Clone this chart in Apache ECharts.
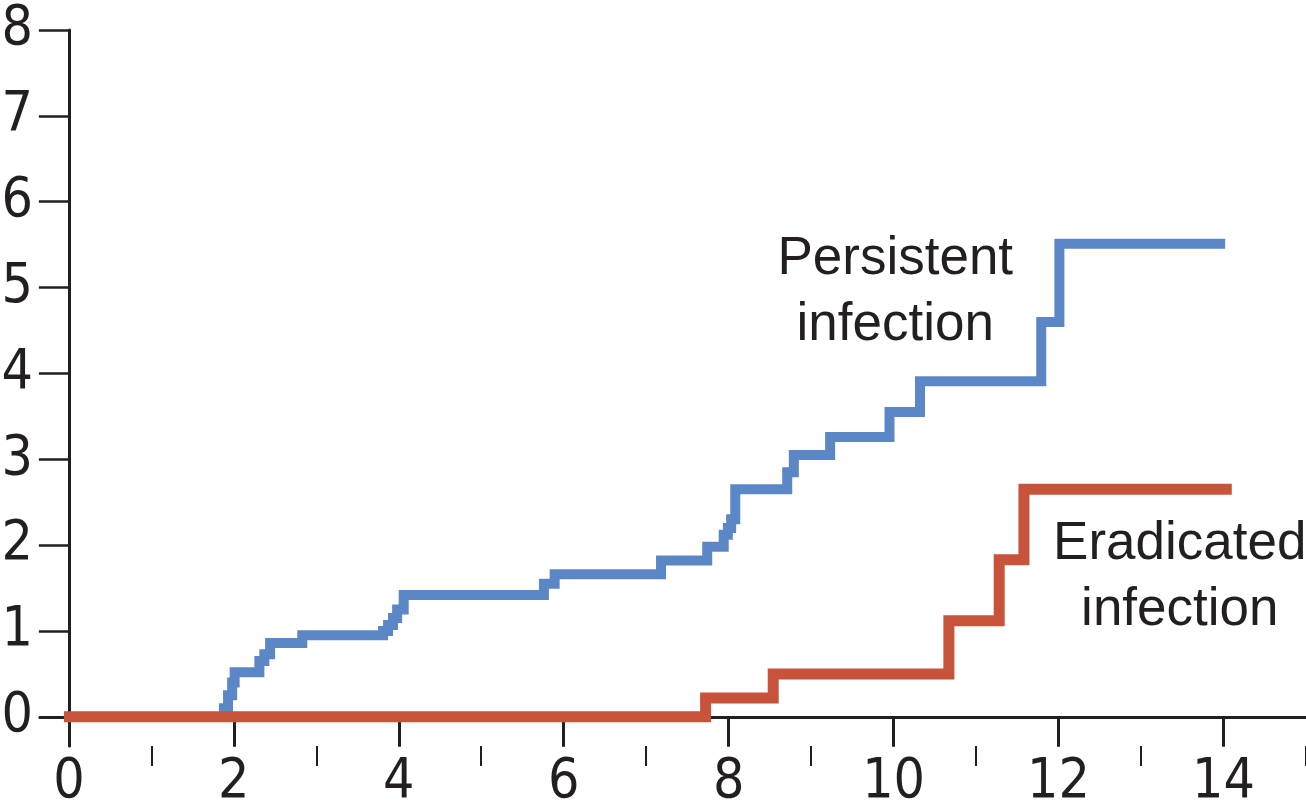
<!DOCTYPE html>
<html>
<head>
<meta charset="utf-8">
<script src="https://cdn.jsdelivr.net/npm/echarts@6/dist/echarts.min.js"></script>
<style>
  html, body { margin: 0; padding: 0; background: #ffffff; }
  #chart { width: 1306px; height: 804px; }
</style>
</head>
<body>
<div id="chart"></div>
<script>
// ---- data ----
const persistentX = [1.85, 1.88, 1.93, 1.98, 2.01, 2.31, 2.37, 2.44, 2.83, 3.81, 3.87, 3.93, 3.98, 4.06, 5.76, 5.89, 7.18, 7.74, 7.94, 7.99, 8.03, 8.08, 8.71, 8.79, 9.23, 9.95, 10.32, 11.79, 12.01, 14.02];
const persistentY = [0, 0.1, 0.25, 0.4, 0.52, 0.65, 0.73, 0.86, 0.95, 1.0, 1.07, 1.15, 1.25, 1.42, 1.55, 1.66, 1.82, 1.98, 2.12, 2.2, 2.3, 2.65, 2.85, 3.05, 3.26, 3.55, 3.91, 4.6, 5.51, 5.51];
const eradicatedX = [-0.06, 7.72, 8.54, 10.67, 11.28, 11.58, 14.1];
const eradicatedY = [0, 0.22, 0.5, 1.12, 1.83, 2.65, 2.65];
const xMajorTicks = [0, 2, 4, 6, 8, 10, 12, 14];
const xMinorTicks = [1, 3, 5, 7, 9, 11, 13, 15];
const yTicks = [0, 1, 2, 3, 4, 5, 6, 7, 8];
const persistentLabel = { text: 'Persistent\ninfection', x: 10.02, y: 4.94 };
const eradicatedLabel = { text: 'Eradicated\ninfection', x: 13.47, y: 1.62 };

const zip = (xs, ys) => xs.map((x, i) => [x, ys[i]]);

const AX = '#231f20';
const tickFont = '"Liberation Sans Narrow", "DejaVu Sans Condensed", "Liberation Sans", sans-serif';
const textFont = '"Liberation Sans", Arial, sans-serif';
const BLUE = '#5b87c6';
const RED = '#c7533b';

function labelPoint(l) {
  return {
    symbol: 'circle',
    symbolSize: 1,
    itemStyle: { color: 'rgba(0,0,0,0)' },
    label: {
      show: true, position: 'inside', color: AX,
      fontFamily: textFont, fontSize: 53, lineHeight: 66, align: 'center',
      formatter: () => l.text
    },
    data: [{ coord: [l.x, l.y] }]
  };
}

const chart = echarts.init(document.getElementById('chart'), null, { renderer: 'canvas' });
chart.setOption({
  animation: false,
  backgroundColor: '#ffffff',
  grid: { left: 40, right: 0, top: 30, bottom: 58, containLabel: false, outerBoundsMode: 'none' },
  xAxis: [
    {
      type: 'value', min: -0.35, max: 15,
      axisLine: { show: true, onZero: true, lineStyle: { color: AX, width: 3 } },
      axisTick: { show: true, customValues: xMajorTicks, length: 30, inside: false, lineStyle: { color: AX, width: 3 } },
      axisLabel: { show: true, customValues: xMajorTicks, margin: 9, color: AX, fontFamily: tickFont, fontSize: 55 },
      splitLine: { show: false }
    },
    {
      type: 'value', min: -0.35, max: 15, position: 'bottom',
      axisLine: { show: false, onZero: true },
      axisTick: { show: true, customValues: xMinorTicks, length: 20, inside: false, lineStyle: { color: AX, width: 2 } },
      axisLabel: { show: false },
      splitLine: { show: false }
    }
  ],
  yAxis: {
    type: 'value', min: -0.34, max: 8,
    axisLine: { show: true, onZero: true, lineStyle: { color: AX, width: 3 } },
    axisTick: { show: true, customValues: yTicks, length: 30, inside: false, lineStyle: { color: AX, width: 2.5 } },
    axisLabel: { show: true, customValues: yTicks, margin: 7, color: AX, fontFamily: tickFont, fontSize: 55 },
    splitLine: { show: false }
  },
  series: [
    {
      name: 'Persistent infection', type: 'line', step: 'end',
      data: zip(persistentX, persistentY),
      showSymbol: false, symbol: 'none',
      lineStyle: { color: BLUE, width: 10, cap: 'butt', join: 'miter' },
      markPoint: labelPoint(persistentLabel),
      z: 2
    },
    {
      name: 'Eradicated infection', type: 'line', step: 'end',
      data: zip(eradicatedX, eradicatedY),
      showSymbol: false, symbol: 'none',
      lineStyle: { color: RED, width: 11, cap: 'butt', join: 'miter' },
      markPoint: labelPoint(eradicatedLabel),
      z: 3
    }
  ]
});
</script>
</body>
</html>
